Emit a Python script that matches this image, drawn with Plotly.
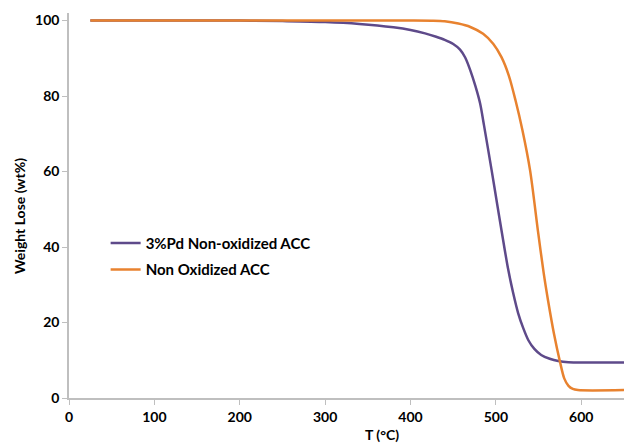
import plotly.graph_objects as go

pd_T = [25, 200, 250, 300, 340, 380, 400, 417, 430, 440, 450, 458, 464, 470, 476, 481.5, 486, 495, 501, 507, 514, 520, 526, 532, 538, 545, 553, 563, 573, 585, 650]
pd_W = [100, 100, 99.85, 99.6, 99.1, 98.2, 97.5, 96.6, 95.7, 94.9, 93.8, 92.3, 90.2, 86.8, 82.6, 78.0, 72.3, 60.3, 52, 43.8, 34.5, 28, 22.5, 18.5, 15.3, 13, 11.4, 10.4, 9.8, 9.5, 9.4]

no_T = [25, 200, 400, 425, 440, 456, 470, 485, 497, 506.5, 515, 523, 531, 540, 549.6, 556, 561, 568, 575, 580, 585, 590, 596, 650]
no_W = [100, 100, 100, 99.95, 99.8, 99.2, 98.3, 96.5, 93.8, 90.3, 85.5, 78.8, 71, 60.3, 43.6, 33, 25.9, 17, 9.6, 5.2, 3.2, 2.4, 2.1, 2.1]

x_ticks = [0, 100, 200, 300, 400, 500, 600]
y_ticks = [0, 20, 40, 60, 80, 100]

font = "Lato"
fig = go.Figure()
fig.add_trace(go.Scatter(x=pd_T, y=pd_W, mode="lines", name="3%Pd Non-oxidized ACC", legendgroup="a",
                         line=dict(color="#5E4A8A", width=2.5, shape="spline", smoothing=0.8)))
fig.add_trace(go.Scatter(x=no_T, y=no_W, mode="lines", name="Non Oxidized ACC", legendgroup="b",
                         line=dict(color="#E8822F", width=2.5, shape="spline", smoothing=0.8)))

fig.update_layout(
    width=624, height=443,
    margin=dict(l=69, r=0, t=13, b=45),
    paper_bgcolor="white", plot_bgcolor="white",
    font=dict(family=font, size=14, color="black"),
    showlegend=True,
    legend=dict(x=0.066, y=0.445, xanchor="left", yanchor="top", bgcolor="rgba(0,0,0,0)",
                font=dict(family=font, size=15, color="black", weight="bold"),
                traceorder="grouped", tracegroupgap=4, itemwidth=30),
    xaxis=dict(range=[0, 650], tickvals=x_ticks, showgrid=False, zeroline=False,
               showline=True, linecolor="#BFBFBF", linewidth=1.5,
               ticks="outside", ticklen=5, tickcolor="#BFBFBF",
               tickfont=dict(family=font, size=14, color="black", weight="bold")),
    yaxis=dict(range=[0, 102], tickvals=y_ticks, showgrid=False, zeroline=False,
               showline=True, linecolor="#BFBFBF", linewidth=1.5,
               ticks="outside", ticklen=5, tickcolor="#BFBFBF",
               tickfont=dict(family=font, size=14, color="black", weight="bold")),
)

pw, ph = 624 - 69 - 0, 443 - 13 - 45
def ann(text, px, py, angle=0):
    return dict(text=text, x=(px - 69) / pw, y=(443 - 45 - py) / ph, xref="paper", yref="paper",
                xanchor="center", yanchor="middle", textangle=angle, showarrow=False,
                font=dict(family=font, size=14, color="black", weight="bold"))

fig.update_layout(annotations=[
    ann("T (°C)", 382, 435),
    ann("Weight Lose (wt%)", 19, 216, -90),
])

fig.write_html("out.html")
